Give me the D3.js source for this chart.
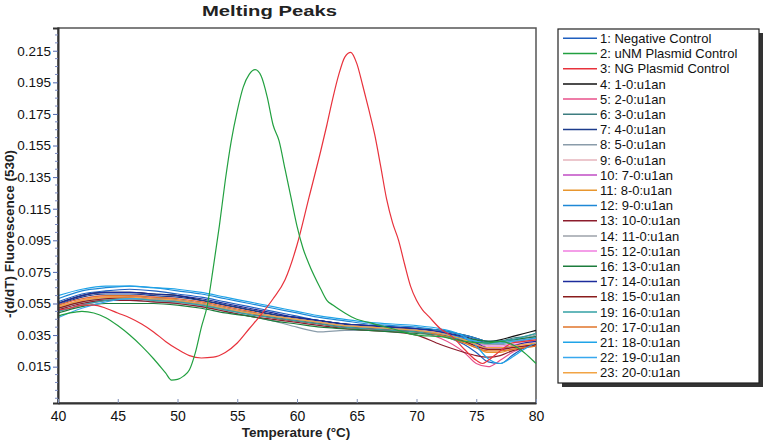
<!DOCTYPE html>
<html><head><meta charset="utf-8">
<script src="https://cdn.jsdelivr.net/npm/d3@7"></script>
<style>
body{margin:0;background:#fff;}
svg{display:block;font-family:"Liberation Sans",Arial,sans-serif;}
</style></head>
<body><svg id="c" width="765" height="442"></svg>
<script>
// ---------- DATA ----------
const title = "Melting Peaks";
const xLabel = "Temperature (°C)";
const yLabel = "-(d/dT) Fluorescence (530)";
const xTicks = [40,45,50,55,60,65,70,75,80];
const yTicks = [0.015,0.035,0.055,0.075,0.095,0.115,0.135,0.155,0.175,0.195,0.215];

const seriesNames = ["1: Negative Control","2: uNM Plasmid Control","3: NG Plasmid Control",
 "4: 1-0:u1an","5: 2-0:u1an","6: 3-0:u1an","7: 4-0:u1an","8: 5-0:u1an","9: 6-0:u1an",
 "10: 7-0:u1an","11: 8-0:u1an","12: 9-0:u1an","13: 10-0:u1an","14: 11-0:u1an","15: 12-0:u1an",
 "16: 13-0:u1an","17: 14-0:u1an","18: 15-0:u1an","19: 16-0:u1an","20: 17-0:u1an","21: 18-0:u1an",
 "22: 19-0:u1an","23: 20-0:u1an"];
const seriesColors = ["#1f5fbf","#22a040","#e8323c","#111111","#e8508a","#3d7d80","#1c3c8c",
 "#8a9caa","#e6b4bc","#c04cc4","#e8962e","#1e88d6","#8c1c2c","#9ca2aa","#f07ee0","#1c7c3c",
 "#1c2c9c","#8a1c1c","#33a0a4","#e0742a","#1fa4e8","#38a8ee","#f2a444"];

// control curves (own temperature grids)
const uNMTemps = [40,41,42,43,44,45,46,47,48,49,49.5,50,50.5,51,51.5,52,52.5,53,53.5,54,54.5,55,55.5,56,56.5,57,57.5,58,58.5,59,59.5,60,60.5,61,62,62.5,63,64,65,66,68,70,72,74,76,77,78,79,80];
const uNMValues = [0.047,0.049,0.050,0.049,0.046,0.041,0.035,0.028,0.020,0.011,0.0065,0.007,0.009,0.013,0.024,0.040,0.054,0.078,0.104,0.133,0.158,0.177,0.192,0.200,0.203,0.199,0.186,0.168,0.158,0.140,0.122,0.104,0.090,0.080,0.064,0.057,0.054,0.049,0.045,0.043,0.039,0.035,0.034,0.031,0.030,0.031,0.029,0.024,0.017];
const ngTemps = [40,41,42,43,44,45,46,47,48,49,50,51,52,53,54,55,56,57,58,59,60,61,62,62.5,63,63.5,64,64.5,65,65.5,66,66.5,67,67.5,68,68.5,69,69.5,70,70.5,71,72,73,74,75,75.5,76,77,78,79,80];
const ngValues = [0.051,0.052,0.054,0.054,0.052,0.049,0.046,0.042,0.037,0.031,0.026,0.022,0.0205,0.021,0.024,0.030,0.039,0.048,0.058,0.070,0.092,0.122,0.152,0.168,0.185,0.200,0.211,0.214,0.207,0.193,0.178,0.162,0.142,0.121,0.106,0.095,0.080,0.066,0.057,0.051,0.047,0.039,0.034,0.026,0.019,0.017,0.019,0.025,0.030,0.031,0.032];

// sample curves (shared temperature grid)
const sampleTemps = [40,42,44,46,48,50,52,54,56,58,60,62,64,66,68,70,72,74,75,76,77,78,79,80];
const s1  = [0.056,0.061,0.063,0.064,0.063,0.061,0.059,0.056,0.053,0.050,0.047,0.044,0.042,0.040,0.039,0.038,0.035,0.029,0.024,0.018,0.017,0.022,0.027,0.030];
const s4  = [0.055,0.060,0.062,0.062,0.061,0.060,0.057,0.054,0.051,0.048,0.046,0.044,0.042,0.041,0.040,0.039,0.038,0.035,0.033,0.031,0.032,0.034,0.036,0.038];
const s5  = [0.050,0.054,0.057,0.058,0.057,0.056,0.054,0.051,0.049,0.046,0.044,0.042,0.040,0.039,0.038,0.037,0.033,0.024,0.017,0.015,0.019,0.024,0.027,0.029];
const s6  = [0.052,0.056,0.058,0.058,0.057,0.056,0.054,0.051,0.049,0.046,0.044,0.042,0.041,0.040,0.039,0.038,0.036,0.033,0.031,0.030,0.031,0.033,0.034,0.036];
const s7  = [0.054,0.059,0.061,0.061,0.060,0.059,0.057,0.054,0.051,0.048,0.046,0.044,0.042,0.041,0.040,0.039,0.037,0.034,0.032,0.030,0.030,0.031,0.032,0.033];
const s8  = [0.051,0.055,0.057,0.057,0.056,0.055,0.053,0.050,0.047,0.044,0.040,0.037,0.038,0.038,0.038,0.037,0.035,0.032,0.030,0.029,0.029,0.030,0.031,0.032];
const s9  = [0.052,0.056,0.058,0.058,0.057,0.056,0.054,0.051,0.048,0.046,0.044,0.042,0.040,0.039,0.038,0.037,0.035,0.031,0.029,0.027,0.027,0.028,0.029,0.030];
const s10 = [0.053,0.057,0.059,0.059,0.058,0.057,0.055,0.052,0.049,0.047,0.045,0.043,0.041,0.040,0.039,0.038,0.036,0.032,0.029,0.026,0.026,0.027,0.028,0.029];
const s11 = [0.053,0.057,0.059,0.060,0.059,0.057,0.055,0.052,0.049,0.046,0.044,0.042,0.040,0.039,0.038,0.037,0.035,0.030,0.027,0.024,0.024,0.026,0.027,0.028];
const s12 = [0.058,0.063,0.065,0.066,0.065,0.063,0.061,0.058,0.055,0.052,0.049,0.046,0.044,0.042,0.041,0.040,0.038,0.035,0.033,0.031,0.031,0.032,0.033,0.034];
const s13 = [0.051,0.055,0.057,0.057,0.056,0.055,0.053,0.050,0.047,0.045,0.043,0.041,0.039,0.038,0.037,0.035,0.029,0.024,0.022,0.021,0.022,0.025,0.027,0.029];
const s14 = [0.052,0.056,0.058,0.058,0.057,0.056,0.054,0.051,0.048,0.046,0.044,0.042,0.040,0.039,0.038,0.037,0.035,0.032,0.030,0.029,0.030,0.031,0.033,0.035];
const s15 = [0.054,0.058,0.060,0.060,0.059,0.058,0.056,0.053,0.050,0.047,0.045,0.043,0.041,0.040,0.039,0.038,0.036,0.032,0.030,0.028,0.028,0.029,0.030,0.031];
const s16 = [0.049,0.053,0.055,0.055,0.055,0.054,0.052,0.049,0.047,0.044,0.042,0.040,0.039,0.038,0.037,0.036,0.035,0.033,0.032,0.031,0.031,0.032,0.033,0.034];
const s17 = [0.055,0.060,0.062,0.062,0.061,0.060,0.058,0.055,0.052,0.049,0.046,0.044,0.042,0.041,0.040,0.039,0.037,0.033,0.030,0.027,0.027,0.028,0.030,0.031];
const s18 = [0.052,0.056,0.058,0.059,0.058,0.057,0.055,0.052,0.049,0.046,0.044,0.042,0.040,0.039,0.038,0.037,0.035,0.031,0.028,0.026,0.026,0.027,0.028,0.029];
const s19 = [0.050,0.054,0.057,0.058,0.057,0.056,0.054,0.051,0.048,0.046,0.044,0.042,0.040,0.039,0.038,0.037,0.035,0.032,0.031,0.030,0.031,0.032,0.034,0.036];
const s20 = [0.054,0.058,0.060,0.060,0.059,0.058,0.056,0.053,0.050,0.047,0.045,0.043,0.041,0.040,0.039,0.038,0.035,0.030,0.027,0.025,0.025,0.026,0.027,0.028];
const s21 = [0.060,0.064,0.066,0.066,0.065,0.064,0.062,0.059,0.056,0.053,0.050,0.047,0.045,0.043,0.042,0.041,0.039,0.034,0.028,0.020,0.017,0.021,0.026,0.030];
const s22 = [0.046,0.052,0.056,0.058,0.058,0.057,0.055,0.052,0.049,0.047,0.045,0.043,0.041,0.040,0.039,0.038,0.036,0.033,0.031,0.030,0.030,0.031,0.032,0.033];
const s23 = [0.053,0.057,0.059,0.059,0.058,0.057,0.055,0.052,0.049,0.047,0.045,0.043,0.041,0.040,0.039,0.038,0.036,0.032,0.029,0.027,0.027,0.028,0.029,0.030];

// ---------- BUILD ----------
const sampleValues = [s1,null,null,s4,s5,s6,s7,s8,s9,s10,s11,s12,s13,s14,s15,s16,s17,s18,s19,s20,s21,s22,s23];
const series = seriesNames.map((name,i)=>{
  let t, v;
  if(i===1){t=uNMTemps; v=uNMValues;}
  else if(i===2){t=ngTemps; v=ngValues;}
  else {t=sampleTemps; v=sampleValues[i];}
  return {name, color:seriesColors[i], pts:t.map((x,k)=>[x,v[k]])};
});

const svg = d3.select("#c");
const L=58, R=536, T=28, B=403;
const x = d3.scaleLinear().domain([40,80]).range([L,R]);
const y = d3.scaleLinear().domain([-0.008,0.2294]).range([B,T]);

// title
svg.append("text").attr("x",202).attr("y",16).attr("font-size",15.5).attr("font-weight","bold")
  .attr("textLength",135).attr("lengthAdjust","spacingAndGlyphs")
  .attr("fill","#222").text(title);

// plot frame
svg.append("rect").attr("x",L).attr("y",T).attr("width",R-L).attr("height",B-T)
  .attr("fill","#fff").attr("stroke","#555").attr("stroke-width",1.5);

// lines
const line = d3.line().x(d=>x(d[0])).y(d=>y(d[1])).curve(d3.curveMonotoneX);
const drawOrder = d3.range(series.length).filter(i=>i!==1&&i!==2).concat([2,1]);
const gl = svg.append("g");
drawOrder.forEach(i=>{
  gl.append("path").attr("d",line(series[i].pts)).attr("fill","none")
    .attr("stroke",series[i].color).attr("stroke-width",1.2).attr("stroke-linejoin","round");
});

// y axis
const yAxis = d3.axisLeft(y).tickValues(yTicks).tickFormat(d3.format(".3f")).tickSize(5).tickPadding(2);
const gy = svg.append("g").attr("transform",`translate(${L},0)`).call(yAxis);
gy.select(".domain").attr("stroke","#333").attr("stroke-width",2);
gy.selectAll(".tick line").attr("stroke","#5068b0");
gy.selectAll(".tick text").attr("font-size",13.5).attr("fill","#111").attr("font-family","Liberation Sans, Arial, sans-serif");
// minor y ticks
const minorY = d3.range(-0.005,0.2295,0.005).filter(v=>!yTicks.some(t=>Math.abs(t-v)<1e-6));
svg.append("g").selectAll("line").data(minorY).join("line")
  .attr("x1",L-3).attr("x2",L).attr("y1",d=>y(d)).attr("y2",d=>y(d))
  .attr("stroke","#7888c0").attr("stroke-width",1);

// x axis
const xAxis = d3.axisBottom(x).tickValues(xTicks).tickFormat(d3.format("d")).tickSizeInner(-4).tickSizeOuter(0).tickPadding(8);
const gx = svg.append("g").attr("transform",`translate(0,${B})`).call(xAxis);
gx.select(".domain").attr("stroke","#333").attr("stroke-width",2);
gx.selectAll(".tick line").attr("stroke","#8090b8");
gx.selectAll(".tick text").attr("font-size",14).attr("fill","#111").attr("font-family","Liberation Sans, Arial, sans-serif");

// axis labels
svg.append("text").attr("x",296).attr("y",437).attr("text-anchor","middle")
  .attr("font-size",13.5).attr("font-weight","bold").attr("fill","#222").text(xLabel);
svg.append("text").attr("transform","translate(14,234) rotate(-90)").attr("text-anchor","middle")
  .attr("font-size",13.5).attr("font-weight","bold").attr("fill","#222").text(yLabel);

// legend
const lx=558, ly=29, lw=201, lh=354;
svg.append("rect").attr("x",lx+4).attr("y",ly+4).attr("width",lw).attr("height",lh).attr("fill","#333");
svg.append("rect").attr("x",lx).attr("y",ly).attr("width",lw).attr("height",lh).attr("fill","#fff")
  .attr("stroke","#222").attr("stroke-width",1.2);
const lg = svg.append("g").selectAll("g").data(series).join("g")
  .attr("transform",(d,i)=>`translate(0,${38.3+i*15.2})`);
lg.append("line").attr("x1",563).attr("x2",597).attr("y1",0).attr("y2",0)
  .attr("stroke",d=>d.color).attr("stroke-width",1.5);
lg.append("text").attr("x",600).attr("y",4.6).attr("font-size",13).attr("fill","#111").text(d=>d.name);
</script></body></html>
